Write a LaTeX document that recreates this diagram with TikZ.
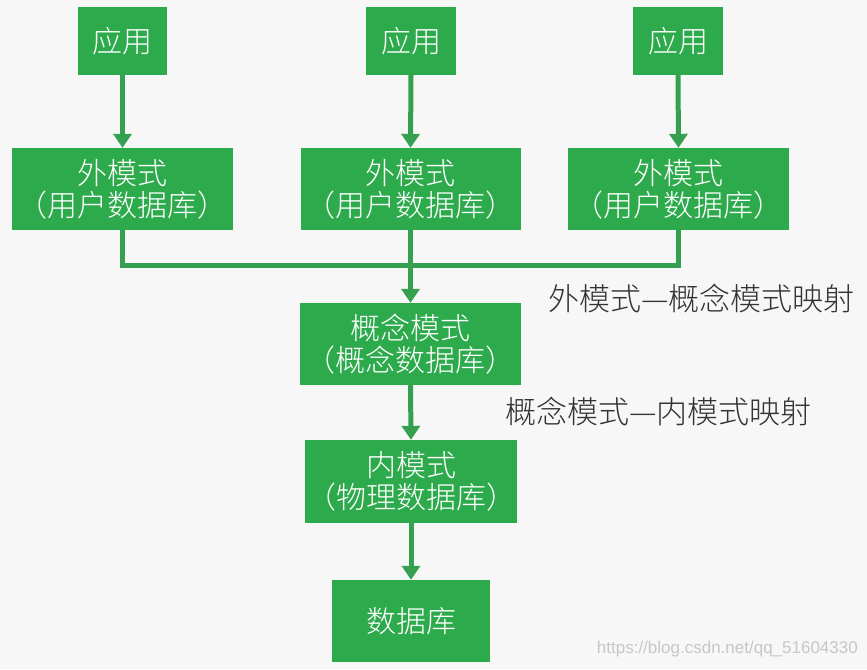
\documentclass[tikz,border=0pt]{standalone}
\usepackage{fontspec}
\setmainfont{Noto Sans CJK SC}[UprightFont=* Light]
\newfontfamily\wmfont{Liberation Sans}
\usetikzlibrary{arrows.meta}
\definecolor{boxgreen}{HTML}{2DAA4B}
\definecolor{linegreen}{HTML}{35A04F}
\definecolor{bgc}{HTML}{F7F7F7}
\definecolor{labelc}{HTML}{333333}
\begin{document}
\begin{tikzpicture}[x=1pt,y=-1pt,
  gbox/.style={fill=boxgreen,draw=none,inner sep=0pt,text=white,align=center,
    font=\fontsize{30}{32}\selectfont},
  conn/.style={draw=linegreen,line width=5pt},
  arr/.style={conn,-{Triangle[width=18pt,length=14pt]}},
  maplabel/.style={text=labelc,inner sep=0pt,anchor=west,font=\fontsize{31}{32}\selectfont}]
\fill[bgc] (0,0) rectangle (867,669);
\useasboundingbox (0,0) rectangle (867,669);
% application boxes
\node[gbox,minimum width=89pt,minimum height=67pt] (a1) at (122.5,41) {应用};
\node[gbox,minimum width=90pt,minimum height=67pt] (a2) at (411,41) {应用};
\node[gbox,minimum width=90pt,minimum height=67pt] (a3) at (678,41) {应用};
% external schemas
\node[gbox,minimum width=221pt,minimum height=82pt] (w1) at (122.5,189) {外模式\\（用户数据库）};
\node[gbox,minimum width=220pt,minimum height=82pt] (w2) at (410.5,189) {外模式\\（用户数据库）};
\node[gbox,minimum width=221pt,minimum height=82pt] (w3) at (678.5,189) {外模式\\（用户数据库）};
% conceptual
\node[gbox,minimum width=221pt,minimum height=82pt] (c) at (410.5,344) {概念模式\\（概念数据库）};
% internal
\node[gbox,minimum width=212pt,minimum height=83pt] (n) at (411,481.5) {内模式\\（物理数据库）};
% database
\node[gbox,minimum width=158pt,minimum height=82pt] (d) at (411,621) {数据库};
% connectors
\draw[arr] (a1.south) -- (w1.north);
\draw[arr] (a2.south) -- (w2.north);
\draw[arr] (a3.south) -- (w3.north);
\coordinate (busL) at (122.5,265);
\coordinate (busR) at (678.5,265);
\draw[conn] (w1.south) -- (busL) -- (busR) -- (w3.south);
\draw[arr] (w2.south) -- (c.north);
\draw[arr] (c.south) -- (n.north);
\draw[arr] (n.south) -- (d.north);
% mapping labels
\node[maplabel] (m1) at (548,298) {外模式—概念模式映射};
\node[maplabel] (m2) at (505,411) {概念模式—内模式映射};
% watermark
\node[text=black!22,inner sep=0pt,anchor=east,font=\wmfont\fontsize{17}{20}\selectfont] (wm) at (858,649) {https://blog.csdn.net/qq\_51604330};
\end{tikzpicture}
\end{document}
